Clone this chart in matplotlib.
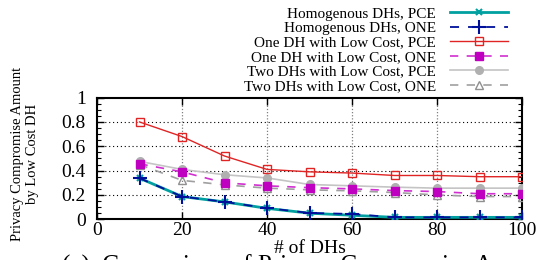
import matplotlib
matplotlib.use("Agg")
import matplotlib.pyplot as plt
from matplotlib.ticker import MultipleLocator

plt.rcParams['font.family'] = ['Liberation Serif', 'DejaVu Serif']

num_dhs = [10, 20, 30, 40, 50, 60, 70, 80, 90, 100]
homog_pce = [0.338, 0.187, 0.143, 0.090, 0.050, 0.033, 0.016, 0.016, 0.016, 0.016]
homog_one = [0.338, 0.187, 0.143, 0.092, 0.052, 0.044, 0.016, 0.016, 0.016, 0.016]
one_low_pce = [0.80, 0.68, 0.52, 0.41, 0.39, 0.38, 0.36, 0.36, 0.35, 0.35]
one_low_one = [0.456, 0.39, 0.30, 0.275, 0.26, 0.25, 0.236, 0.228, 0.21, 0.21]
two_low_pce = [0.476, 0.41, 0.366, 0.34, 0.286, 0.275, 0.264, 0.256, 0.256, 0.256]
two_low_one = [0.45, 0.32, 0.283, 0.256, 0.242, 0.234, 0.22, 0.20, 0.187, 0.187]

labels = ["Homogenous DHs, PCE", "Homogenous DHs, ONE",
          "One DH with Low Cost, PCE", "One DH with Low Cost, ONE",
          "Two DHs with Low Cost, PCE", "Two DHs with Low Cost, ONE"]
x_ticks = [0, 20, 40, 60, 80, 100]
y_ticks = [0, 0.2, 0.4, 0.6, 0.8, 1]
y_tick_labels = ["0", "0.2", "0.4", "0.6", "0.8", "1"]

fig = plt.figure(figsize=(5.45, 2.6), dpi=100)
ax = fig.add_axes([97/545, 1-219.3/260, (522-97)/545, (219.3-97.6)/260])

ax.plot(num_dhs, homog_pce, color='#00a0a0', lw=2.0, marker='x', ms=5, mew=1.5, label=labels[0], zorder=5)
ax.plot(num_dhs, homog_one, color='#00109a', lw=1.3, ls=(0, (5, 5)), marker='+', ms=10, mew=1.5, label=labels[1], zorder=6)
ax.plot(num_dhs, one_low_pce, color='#e02424', lw=1.0, marker='s', ms=6, mfc='none', mew=1.0, label=labels[2], zorder=4)
ax.plot(num_dhs, one_low_one, color='#d030d0', lw=1.2, ls=(0, (5, 5)), marker='s', ms=6, mfc='#c000c0', mec='#c000c0', label=labels[3], zorder=4)
ax.plot(num_dhs, two_low_pce, color='#c4c4c4', lw=1.2, marker='o', ms=5.5, mfc='#b0b0b0', mec='#b0b0b0', label=labels[4], zorder=3)
ax.plot(num_dhs, two_low_one, color='#a0a0a0', lw=1.2, ls=(0, (5, 5)), marker='^', ms=6, mfc='none', mec='#909090', mew=1.0, label=labels[5], zorder=3)

ax.set_xlim(0, 100)
ax.set_ylim(0, 1)
ax.set_xticks(x_ticks)
ax.set_yticks(y_ticks)
ax.set_yticklabels(y_tick_labels)
ax.yaxis.set_minor_locator(MultipleLocator(0.05))
ax.tick_params(axis='both', which='both', direction='in', top=True, right=True, labelsize=14)
ax.tick_params(axis='both', which='major', length=5, width=1)
ax.tick_params(axis='both', which='minor', length=3, width=0.8)
ax.tick_params(axis='x', pad=2)
ax.tick_params(axis='y', pad=8)

for yv in y_ticks[1:-1]:
    ax.axhline(yv, color='black', lw=0.8, ls=(0, (1, 2.5)), zorder=1)
for xv in x_ticks[1:-1]:
    ax.axvline(xv, color='#808080', lw=0.9, ls=(0, (1, 1.5)), zorder=1)

for s in ax.spines.values():
    s.set_linewidth(1.5)

ax.set_xlabel("# of DHs", fontsize=14, labelpad=1)
fig.text(25/545, 1-154/260, "Privacy Compromise Amount\nby Low Cost DH", rotation=90,
         ha='center', va='center', fontsize=10.5, linespacing=1.15)

leg = fig.legend(loc='upper right', bbox_to_anchor=(508/545, 1-7/260), frameon=False,
                 markerfirst=False, fontsize=11, handlelength=3.8, handletextpad=0.9,
                 labelspacing=0.05, borderpad=0, borderaxespad=0)

fig.text(62/545, 1-255/260, "(c)  Comparison of Privacy Compromise Amount", fontsize=18, ha='left', va='top')

fig.savefig("out.png", dpi=100)
